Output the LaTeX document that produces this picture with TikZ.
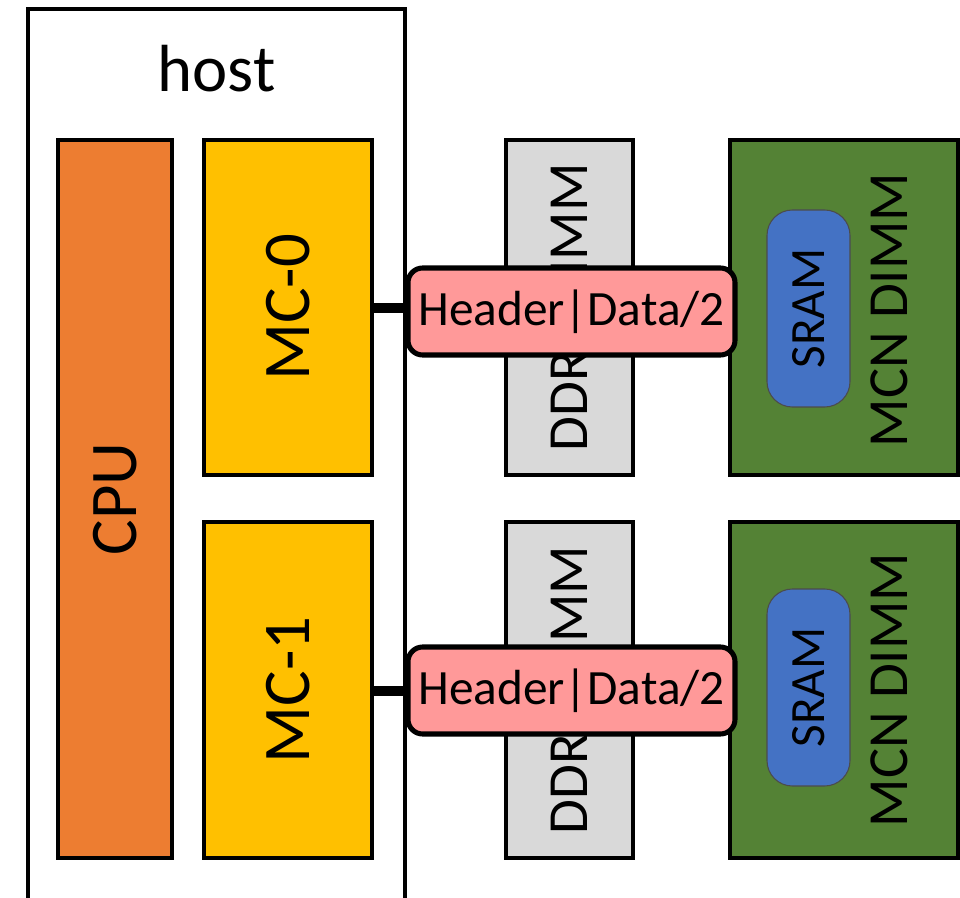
\documentclass[tikz,border=0pt]{standalone}
\usepackage{fontspec}
\setmainfont{Carlito}
\definecolor{cpuorange}{HTML}{ED7D31}
\definecolor{mcyellow}{HTML}{FFC000}
\definecolor{dimmgray}{HTML}{D9D9D9}
\definecolor{mcngreen}{HTML}{548235}
\definecolor{srambue}{HTML}{4472C4}
\definecolor{pktpink}{HTML}{FF9999}
\tikzset{
  block/.style={draw=black, line width=3pt, inner sep=0pt, outer sep=0pt},
  bigtext/.style={font=\fontsize{50}{50}\selectfont},
  midtext/.style={font=\fontsize{42.5}{42.5}\selectfont},
  sramtext/.style={font=\fontsize{37}{37}\selectfont},
  pkt/.style={draw=black, line width=3.8pt, fill=pktpink, rounded corners=11pt,
    minimum width=327*0.75pt, minimum height=87*0.75pt, inner sep=0pt, outer sep=0pt,
    font=\fontsize{37}{37}\selectfont},
  sram/.style={draw=black!70, line width=0.8pt, fill=srambue, rounded corners=19pt,
    minimum width=83*0.75pt, minimum height=197*0.75pt, inner sep=0pt,
    sramtext},
  link/.style={line width=7.5pt},
}
\begin{document}
\begin{tikzpicture}[x=0.75pt,y=-0.75pt]
\useasboundingbox (0,0) rectangle (960,898);
\clip (0,0) rectangle (960,898);

% host enclosure (runs off the bottom edge)
\node[draw=black, line width=2.6pt, inner sep=0pt, outer sep=0pt,
  minimum width=377*0.75pt, minimum height=940*0.75pt] (host) at (216.5,479) {};
\node[bigtext, anchor=base] (hostlabel) at (216.5,92) {host};

% CPU and memory controllers
\node[block, fill=cpuorange, minimum width=114*0.75pt, minimum height=718*0.75pt] (cpu) at (115,499) {};
\node[bigtext, rotate=90] at (cpu.center) {CPU};

\node[block, fill=mcyellow, minimum width=168*0.75pt, minimum height=335*0.75pt] (mc0) at (288,307.5) {};
\node[bigtext, rotate=90] at (mc0.center) {MC-0};
\node[block, fill=mcyellow, minimum width=168*0.75pt, minimum height=336*0.75pt] (mc1) at (288,690) {};
\node[bigtext, rotate=90] at (mc1.center) {MC-1};

% DDR4 DIMMs
\node[block, fill=dimmgray, minimum width=127*0.75pt, minimum height=335*0.75pt] (ddr0) at (569.5,307.5) {};
\node[midtext, rotate=90] at (ddr0.center) {DDR4 DIMM};
\node[block, fill=dimmgray, minimum width=127*0.75pt, minimum height=336*0.75pt] (ddr1) at (569.5,690) {};
\node[midtext, rotate=90] at (ddr1.center) {DDR4 DIMM};

% MCN DIMMs with on-board SRAM
\node[block, fill=mcngreen, minimum width=228*0.75pt, minimum height=335*0.75pt] (mcn0) at (844,307.5) {};
\node[midtext, rotate=90] at (889,310) {MCN DIMM};
\node[sram] (sram0) at (808.5,308.5) {\rotatebox{90}{SRAM}};

\node[block, fill=mcngreen, minimum width=228*0.75pt, minimum height=336*0.75pt] (mcn1) at (844,690) {};
\node[midtext, rotate=90] at (889,690) {MCN DIMM};
\node[sram] (sram1) at (808.5,687.5) {\rotatebox{90}{SRAM}};

% packets on the memory channels
\node[pkt] (pkt0) at (571.5,311.5) {Header|Data/2};
\node[pkt] (pkt1) at (571.5,690.5) {Header|Data/2};

\draw[link] (mc0.east |- 0,308.5) -- (pkt0.west |- 0,308.5);
\draw[link] (mc1.east |- 0,691) -- (pkt1.west |- 0,691);
\end{tikzpicture}
\end{document}
